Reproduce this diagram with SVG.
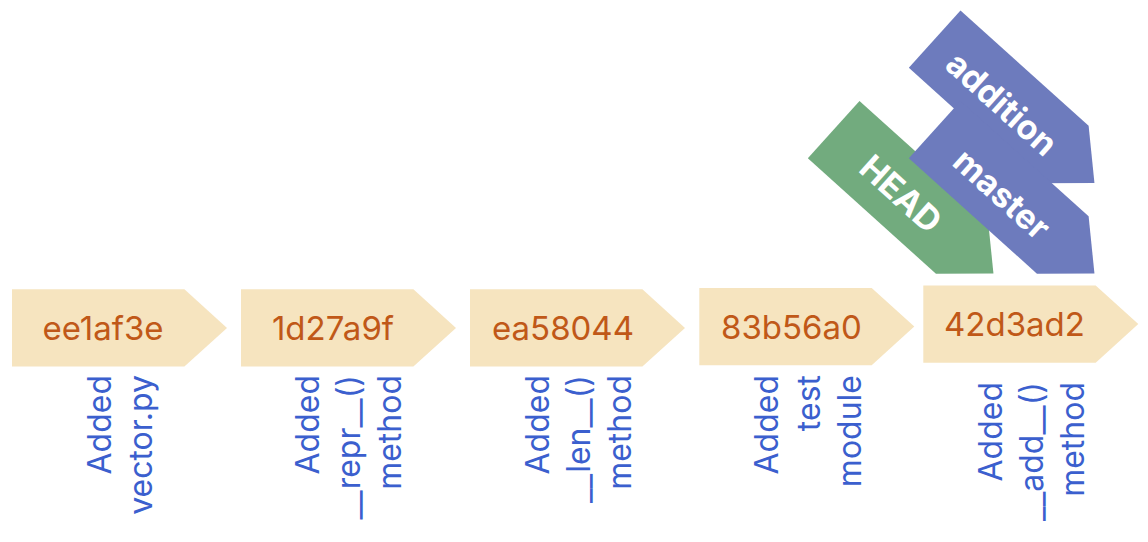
<svg xmlns="http://www.w3.org/2000/svg" width="1148" height="542" viewBox="0 0 1148 542">
<style>
.commit{fill:#F6E4BF}
.hash{font-family:Inter,"Liberation Sans",sans-serif;font-size:33px;fill:#C05818;text-anchor:middle;dominant-baseline:central}
.msg{font-family:Inter,"Liberation Sans",sans-serif;font-size:32px;fill:#3B5FCE;text-anchor:end}
.branch{fill:#6D7BBD}
.head{fill:#72AB7E}
.blabel{font-family:Inter,"Liberation Sans",sans-serif;font-size:34px;font-weight:bold;fill:#FFFFFF;text-anchor:middle;dominant-baseline:central}
</style>
<defs>
<polygon id="arrow" points="0,0 172.4,0 215,38.6 172.4,77.2 0,77.2"/>
</defs>
<rect width="1148" height="542" fill="#FFFFFF"/>
<g id="connectors"></g>
<g id="c1">
<use href="#arrow" class="commit" transform="translate(12,289.3)"/>
<text class="hash" x="103" y="328">ee1af3e</text>
<text class="msg" transform="translate(110.7,375) rotate(-90)"><tspan x="0" y="0">Added</tspan><tspan x="0" y="41">vector.py</tspan></text>
</g>
<g id="c2">
<use href="#arrow" class="commit" transform="translate(241,289.3)"/>
<text class="hash" x="333" y="328">1d27a9f</text>
<text class="msg" transform="translate(319.3,375) rotate(-90)"><tspan x="0" y="0">Added</tspan><tspan x="0" y="41">__repr__()</tspan><tspan x="0" y="82">method</tspan></text>
</g>
<g id="c3">
<use href="#arrow" class="commit" transform="translate(470,289.3)"/>
<text class="hash" x="563" y="328">ea58044</text>
<text class="msg" transform="translate(549.3,375) rotate(-90)"><tspan x="0" y="0">Added</tspan><tspan x="0" y="41">__len__()</tspan><tspan x="0" y="82">method</tspan></text>
</g>
<g id="c4">
<use href="#arrow" class="commit" transform="translate(699.3,288)"/>
<text class="hash" x="791.5" y="326.5">83b56a0</text>
<text class="msg" transform="translate(778.3,375) rotate(-90)"><tspan x="0" y="0">Added</tspan><tspan x="0" y="41.5">test</tspan><tspan x="0" y="83">module</tspan></text>
</g>
<g id="c5">
<use href="#arrow" class="commit" transform="translate(923.3,285.5)"/>
<text class="hash" x="1014.5" y="324">42d3ad2</text>
<text class="msg" transform="translate(1001.7,382) rotate(-90)"><tspan x="0" y="0">Added</tspan><tspan x="0" y="41">__add__()</tspan><tspan x="0" y="82">method</tspan></text>
</g>
<g id="HEAD" transform="translate(859.5,101) rotate(42)">
<use href="#arrow" class="head"/>
<text class="blabel" x="93" y="41">HEAD</text>
</g>
<g id="addition" transform="translate(960.5,10.5) rotate(42)">
<use href="#arrow" class="branch"/>
<text class="blabel" x="93" y="41">addition</text>
</g>
<g id="master" transform="translate(960.5,101) rotate(42)">
<use href="#arrow" class="branch"/>
<text class="blabel" x="93" y="41">master</text>
</g>
</svg>
